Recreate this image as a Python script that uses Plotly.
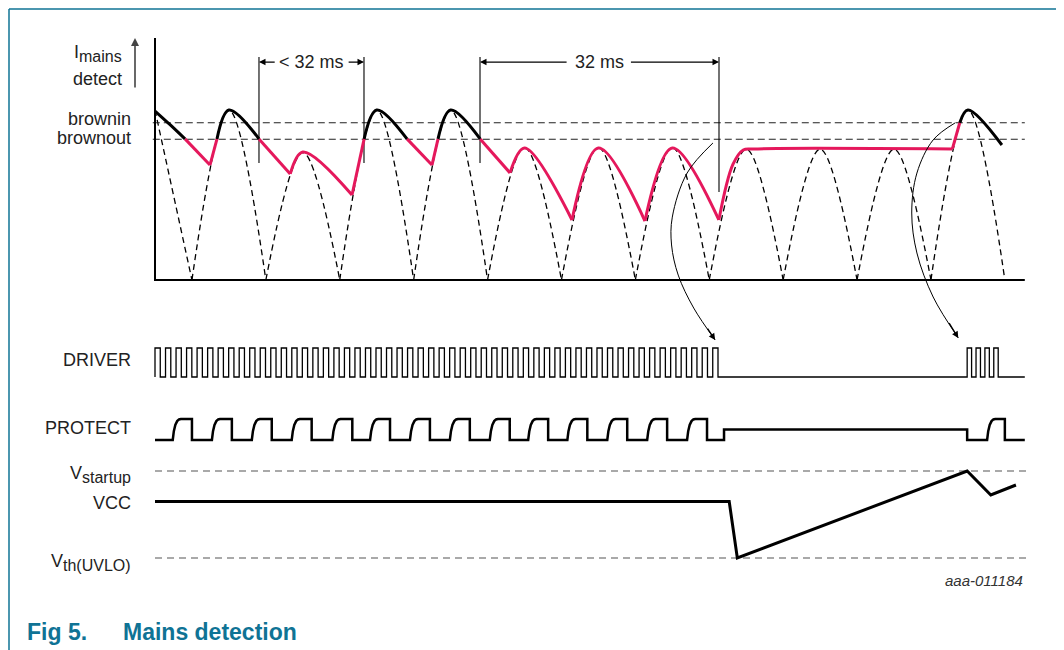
import plotly.graph_objects as go

##########################################
## Data (time in ms, each signal on its own normalised scale)
##########################################

# rectified mains, one arch per half cycle
mains_peak_t = [0, 10, 20, 30, 40, 50, 60, 70, 80, 90, 100, 110]
mains_peak_v = [1.0, 1.0, 0.75, 1.0, 1.0, 0.78, 0.78, 0.78, 0.77, 0.77, 0.77, 1.0]
mains_zero_t = [5, 15, 25, 35, 45, 55, 65, 75, 85, 95, 105, 115]

brownin_v = 0.925
brownout_v = 0.828

# mains detect output, black while ok, red below brownout (None splits pieces)
detect_ok_t = [0, 2.0, 4.06, None, 8.39, 10, 14.07, None, 28.3, 30, 34.1, None,
               38.3, 40, 44.0, None, 108.9, 110, 114.6]
detect_ok_v = [0.994, 0.915, 0.83, None, 0.83, 1.0, 0.83, None, 0.83, 1.0, 0.83, None,
               0.83, 1.0, 0.83, None, 0.925, 1.0, 0.794]
detect_low_t = [4.06, 7.44, None, 7.44, 8.39, None, 14.07, 18.3, None, 18.3, 20, 26.66, None,
                26.66, 28.3, None, 34.1, 37.48, None, 37.48, 38.3, None, 44.0, 48.04, None,
                48.04, 50, 56.43, None, 56.43, 60, 66.3, None, 66.3, 70, 76.3, None,
                76.3, 78.2, 79.6, 81, 107.9, None, 107.9, 108.9]
detect_low_v = [0.83, 0.676, None, 0.676, 0.83, None, 0.83, 0.624, None, 0.624, 0.753, 0.5, None,
                0.5, 0.83, None, 0.83, 0.676, None, 0.676, 0.83, None, 0.83, 0.63, None,
                0.63, 0.776, 0.353, None, 0.353, 0.776, 0.347, None, 0.347, 0.776, 0.353, None,
                0.353, 0.68, 0.765, 0.771, 0.771, None, 0.771, 0.925]

# timing markers
marker_t = [14.07, 28.28, 43.98, 76.32]
marker_bottom_v = [0.688, 0.688, 0.688, 0.518]
marker_top_v = 1.312
dim_v = 1.282

# DRIVER bursts
driver_burst_start = [0, 109.9]
driver_burst_count = [54, 4]
driver_burst_period = [1.424, 1.2]

# PROTECT pulses
protect_rise_t = [2.4, 7.7, 13.1, 18.5, 24.0, 29.1, 34.5, 39.9, 45.3, 50.5, 55.8, 61.2, 66.6, 72.0, 112.6]
protect_fall_t = [5.0, 10.4, 15.8, 21.2, 26.7, 31.8, 37.2, 42.6, 48.0, 53.2, 58.5, 63.9, 69.3, 74.7, 115.0]
protect_hold_t = [77.0, 109.9]
protect_hold_v = 0.5
protect_edge_dt = [0, 0.15, 0.35, 0.6, 0.85, 1.1]
protect_edge_v = [0, 0.42, 0.72, 0.9, 0.98, 1.0]

# VCC (0 = Vth(UVLO), 1 = Vstartup)
vcc_t = [0, 77.7, 78.8, 109.9, 113.1, 116.5]
vcc_v = [0.649, 0.649, 0, 1.0, 0.724, 0.839]

# curved pointer arrows (on the mains scale)
pointer1_t = [75.5, 72.0, 70.0, 69.9, 70.8, 72.9, 75.8]
pointer1_v = [0.806, 0.629, 0.370, 0.206, 0.029, -0.165, -0.353]
pointer2_t = [108.3, 105.3, 103.1, 102.4, 103.1, 105.3, 108.7]
pointer2_v = [0.925, 0.824, 0.629, 0.394, 0.159, -0.100, -0.341]

T_END = 117.7

##########################################
## Layout helpers
##########################################

PAGE_W, PAGE_H = 1064, 650
MARGIN = 8                      # default body margin of the html page
W, H = PAGE_W - MARGIN, PAGE_H - MARGIN
X0_PX = 155                     # t = 0 in page pixels
PX_PER_MS = 7.39
FONT = "Liberation Sans, Arial, sans-serif"
RED = "#e5185c"
TEAL = "#0f7395"


def px_range(base_px, unit_px):
    # value 0 sits at page row base_px, value 1 sits unit_px higher
    return [(base_px - PAGE_H) / unit_px, (base_px - MARGIN) / unit_px]


def t_of(px):
    return (px - X0_PX) / PX_PER_MS


def paper_x(px):
    return (px - MARGIN) / W


def paper_y(py):
    return 1 - (py - MARGIN) / H


def pulse_train(start, count, period):
    xs, ys = [], []
    for k in range(count):
        a = start + k * period
        b = a + period / 2
        xs += [a, a, b, b]
        ys += [0, 1, 1, 0]
    return xs, ys


fig = go.Figure()

##########################################
## Mains detect panel
##########################################

arch_t, arch_v = [], []
for i, (tp, vp) in enumerate(zip(mains_peak_t, mains_peak_v)):
    if i > 0:
        arch_t.append(mains_zero_t[i - 1])
        arch_v.append(0)
    arch_t += [tp, mains_zero_t[i], None]
    arch_v += [vp, 0, None]

fig.add_trace(go.Scatter(x=arch_t, y=arch_v, mode="lines",
                         line=dict(color="black", width=1.3, dash="6px,4px", shape="spline")))

for lvl in [brownin_v, brownout_v]:
    fig.add_trace(go.Scatter(x=[-0.3, T_END], y=[lvl, lvl], mode="lines",
                             line=dict(color="#222", width=1.2, dash="7px,4px")))

# timing marker verticals
for t, vb in zip(marker_t, marker_bottom_v):
    fig.add_trace(go.Scatter(x=[t, t], y=[marker_top_v, vb], mode="lines",
                             line=dict(color="black", width=1.1)))

# axes of the top panel
fig.add_trace(go.Scatter(x=[0, 0, T_END], y=[1.424, 0, 0], mode="lines",
                         line=dict(color="black", width=2)))

fig.add_trace(go.Scatter(x=detect_low_t, y=detect_low_v, mode="lines",
                         line=dict(color=RED, width=3, shape="spline")))
fig.add_trace(go.Scatter(x=detect_ok_t, y=detect_ok_v, mode="lines",
                         line=dict(color="black", width=3, shape="spline")))

# pointers from the top panel to the DRIVER trace
for pt, pv in [(pointer1_t, pointer1_v), (pointer2_t, pointer2_v)]:
    fig.add_trace(go.Scatter(x=pt, y=pv, mode="lines",
                             line=dict(color="black", width=1, shape="spline")))

##########################################
## DRIVER / PROTECT / VCC
##########################################

drv_t, drv_v = [], []
for s, n, p in zip(driver_burst_start, driver_burst_count, driver_burst_period):
    xs, ys = pulse_train(s, n, p)
    drv_t += xs
    drv_v += ys
drv_t.append(T_END)
drv_v.append(0)
fig.add_trace(go.Scatter(x=drv_t, y=drv_v, yaxis="y2", mode="lines",
                         line=dict(color="black", width=1.3)))

pro_t, pro_v = [0], [0]
hold_done = False
for rs, f in zip(protect_rise_t, protect_fall_t):
    if not hold_done and rs > protect_hold_t[0]:
        pro_t += [protect_hold_t[0], protect_hold_t[0], protect_hold_t[1], protect_hold_t[1]]
        pro_v += [0, protect_hold_v, protect_hold_v, 0]
        hold_done = True
    pro_t += [rs + d for d in protect_edge_dt] + [f, f]
    pro_v += protect_edge_v + [1, 0]
pro_t.append(T_END)
pro_v.append(0)
fig.add_trace(go.Scatter(x=pro_t, y=pro_v, yaxis="y3", mode="lines",
                         line=dict(color="black", width=2.5)))

for lvl in [0, 1]:
    fig.add_trace(go.Scatter(x=[0, 118.0], y=[lvl, lvl], yaxis="y4", mode="lines",
                             line=dict(color="#555", width=1.2, dash="7px,5px")))
fig.add_trace(go.Scatter(x=vcc_t, y=vcc_v, yaxis="y4", mode="lines",
                         line=dict(color="black", width=3)))

fig.update_traces(hoverinfo="skip", showlegend=False)

##########################################
## Text and arrows
##########################################

label_t = t_of(133)
txt = dict(family=FONT, size=18, color="#222")
lab = dict(font=txt, showarrow=False, xanchor="right", yanchor="middle", xref="x")
annotations = [
    dict(text='I<sub><span style="font-size:16px">mains</span></sub>', x=t_of(124), y=1.33,
         yref="y", **lab),
    dict(text="detect", x=t_of(124), y=1.182, yref="y", **lab),
    dict(text="brownin", x=label_t, y=0.947, yref="y", **lab),
    dict(text="brownout", x=label_t, y=0.836, yref="y", **lab),
    dict(text="DRIVER", x=label_t, y=0.586, yref="y2", **lab),
    dict(text="PROTECT", x=label_t, y=0.571, yref="y3", **lab),
    dict(text='V<sub><span style="font-size:16px">startup</span></sub>', x=label_t, y=0.96,
         yref="y4", **lab),
    dict(text="VCC", x=label_t, y=0.632, yref="y4", **lab),
    dict(text='V<sub><span style="font-size:16px">th(UVLO)</span></sub>', x=label_t, y=-0.05,
         yref="y4", **lab),
    dict(text="< 32 ms", x=21.18, y=dim_v, yref="y", xref="x", font=txt, showarrow=False),
    dict(text="32 ms", x=60.15, y=dim_v, yref="y", xref="x", font=txt, showarrow=False),
    dict(text="<i>aaa-011184</i>", x=T_END, y=-0.253, xref="x", yref="y4", xanchor="right",
         showarrow=False, font=dict(family=FONT, size=15, color="#333")),
    dict(text="<b>Fig 5.</b>", x=paper_x(25), y=paper_y(632), xref="paper", yref="paper",
         xanchor="left", yanchor="middle", showarrow=False,
         font=dict(family=FONT, size=23, color=TEAL)),
    dict(text="<b>Mains detection</b>", x=paper_x(120.5), y=paper_y(632), xref="paper",
         yref="paper", xanchor="left", yanchor="middle", showarrow=False,
         font=dict(family=FONT, size=23, color=TEAL)),
]

arrow = dict(text="", showarrow=True, arrowhead=2, arrowsize=1, arrowwidth=1.3,
             arrowcolor="black", standoff=0, xref="x", yref="y", axref="x", ayref="y")
# dimension arrows: (head, tail)
for head, tail in [(14.07, 16.4), (28.28, 26.0), (43.98, 55.9), (76.32, 64.2)]:
    annotations.append(dict(x=head, y=dim_v, ax=tail, ay=dim_v, **arrow))
# Imains axis arrow
annotations.append(dict(x=t_of(135), y=1.424, ax=t_of(135), ay=1.124,
                        **{**arrow, "arrowcolor": "#444", "arrowwidth": 1.6}))
# pointer heads
for pt, pv in [(pointer1_t, pointer1_v), (pointer2_t, pointer2_v)]:
    annotations.append(dict(x=pt[-1], y=pv[-1], ax=pt[-2] + 0.6 * (pt[-1] - pt[-2]),
                            ay=pv[-2] + 0.6 * (pv[-1] - pv[-2]), **arrow))

# figure frame (open at the bottom)
frame = dict(type="line", xref="paper", yref="paper", line=dict(color=TEAL, width=1.5))
shapes = [
    dict(x0=paper_x(9), x1=paper_x(9), y0=-0.02, y1=paper_y(9), **frame),
    dict(x0=paper_x(9), x1=paper_x(1062), y0=paper_y(9), y1=paper_y(9), **frame),
    dict(x0=paper_x(1062), x1=paper_x(1062), y0=-0.02, y1=paper_y(9), **frame),
]

hidden = dict(visible=False, showgrid=False, zeroline=False, fixedrange=True)
fig.update_layout(
    width=W, height=H, autosize=False,
    margin=dict(l=0, r=0, t=0, b=0),
    paper_bgcolor="white", plot_bgcolor="white",
    showlegend=False,
    xaxis=dict(range=[t_of(MARGIN), t_of(PAGE_W)], **hidden),
    yaxis=dict(range=px_range(280, 170), **hidden),
    yaxis2=dict(range=px_range(377, 29), overlaying="y", **hidden),
    yaxis3=dict(range=px_range(440, 21), overlaying="y", **hidden),
    yaxis4=dict(range=px_range(558, 87), overlaying="y", **hidden),
    annotations=annotations,
    shapes=shapes,
)

fig.write_html("out.html", config={"displayModeBar": False})
